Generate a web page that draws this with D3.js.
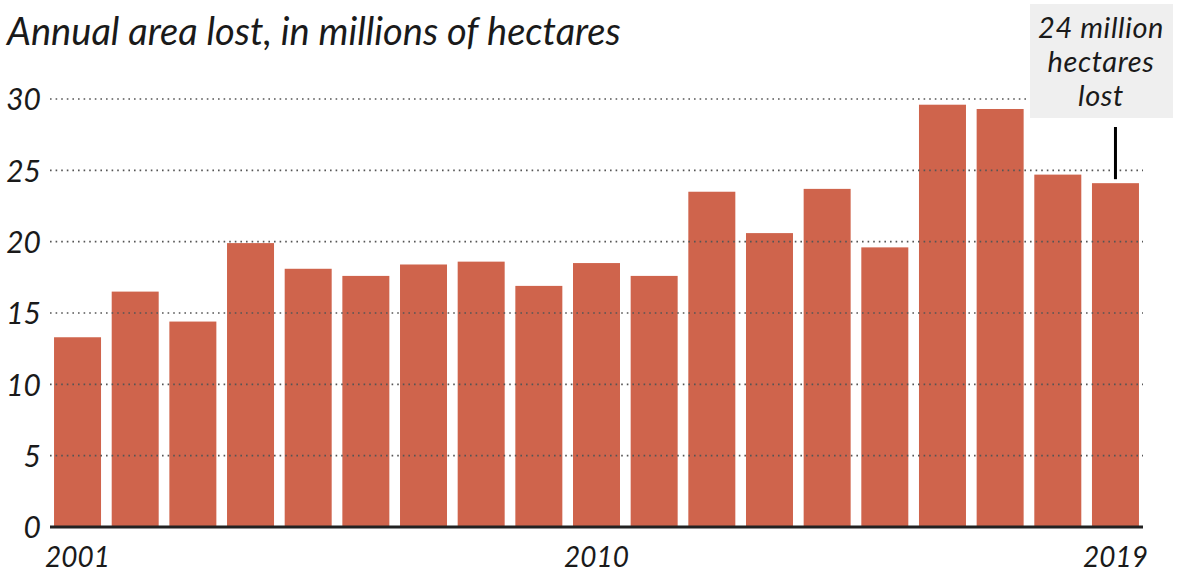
<!DOCTYPE html>
<html><head><meta charset="utf-8">
<script src="https://cdn.jsdelivr.net/npm/d3@7"></script>
<style>
html,body{margin:0;padding:0;background:#fff;}
svg{display:block;}
text{font-family:Lato,"Open Sans",sans-serif;font-style:italic;fill:#1a1a1a;}
</style></head>
<body>
<svg id="chart" width="1177" height="574"></svg>
<script>
const years = [2001,2002,2003,2004,2005,2006,2007,2008,2009,2010,2011,2012,2013,2014,2015,2016,2017,2018,2019];
const lossMha = [13.3,16.5,14.4,19.9,18.1,17.6,18.4,18.6,16.9,18.5,17.6,23.5,20.6,23.7,19.6,29.6,29.3,24.7,24.1];
const yTicks = [0,5,10,15,20,25,30];
const xTickLabels = [2001,2010,2019];
const title = "Annual area lost, in millions of hectares";
const annotationLines = ["24 million","hectares","lost"];
const annotatedYear = 2019;

const svg = d3.select("#chart");
const x = d3.scaleBand().domain(years).range([50,1143]).paddingInner(0.185).paddingOuter(0.07);
const y = d3.scaleLinear().domain([0,30]).range([527,99]);

// bars
svg.append("g").selectAll("rect").data(years).join("rect")
  .attr("x", d=>x(d)).attr("width", x.bandwidth())
  .attr("y", (d,i)=>y(lossMha[i])).attr("height",(d,i)=>y(0)-y(lossMha[i]))
  .attr("fill","#cf644c");

// gridlines
const grid = svg.append("g");
grid.selectAll("line").data(yTicks.filter(d=>d>0)).join("line")
  .attr("x1",50).attr("x2",1143)
  .attr("y1",d=>y(d)).attr("y2",d=>y(d))
  .attr("stroke","#555").attr("stroke-width",1.6)
  .attr("stroke-dasharray","1.6,4");

// y labels
const yAxis = d3.axisLeft(y).tickValues(yTicks).tickSize(0).tickPadding(0);
const ya = svg.append("g").attr("transform","translate(41,0)").call(yAxis);
ya.select(".domain").remove();
ya.selectAll("text").attr("font-size",30).attr("font-family","Lato").attr("fill","#1a1a1a").attr("dy","0.36em");

// baseline
svg.append("line").attr("x1",50).attr("x2",1143).attr("y1",y(0)).attr("y2",y(0))
  .attr("stroke","#222").attr("stroke-width",3);

// x labels
const xAxis = d3.axisBottom(x).tickValues(xTickLabels).tickSize(0).tickPadding(0);
const xa = svg.append("g").attr("transform","translate(0,547)").call(xAxis);
xa.select(".domain").remove();
xa.selectAll("text").attr("font-size",28).attr("font-family","Lato").attr("fill","#1a1a1a").attr("dy","0.71em");

// title
svg.append("text").attr("x",7).attr("y",45).attr("font-size",38).text(title);

// annotation
const ax = x(annotatedYear)+x.bandwidth()/2;
svg.append("rect").attr("x",1030).attr("y",4).attr("width",143).attr("height",114).attr("fill","#efefef");
svg.append("g").selectAll("text").data(annotationLines).join("text")
  .attr("x",1101).attr("y",(d,i)=>38+i*34).attr("text-anchor","middle")
  .attr("font-size",29).attr("letter-spacing","0.6px").text(d=>d);
svg.append("line").attr("x1",ax).attr("x2",ax).attr("y1",127).attr("y2",y(lossMha[years.indexOf(annotatedYear)])-4)
  .attr("stroke","#000").attr("stroke-width",3);
</script>
</body></html>
